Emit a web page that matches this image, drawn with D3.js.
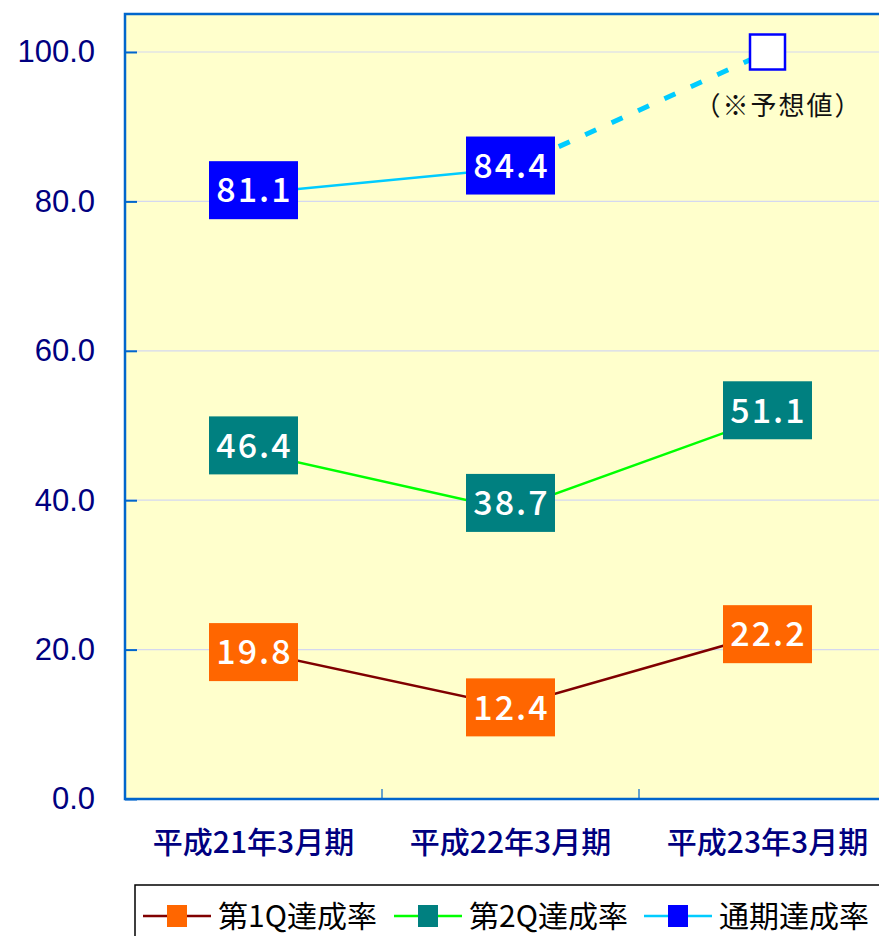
<!DOCTYPE html>
<html>
<head>
<meta charset="utf-8">
<script src="https://cdn.jsdelivr.net/npm/d3@7"></script>
<style>
  body { margin: 0; background: #fff; }
  svg { display: block; }
</style>
</head>
<body>
<svg width="879" height="936"></svg>
<script>
// chart values
var categories = ["平成21年3月期", "平成22年3月期", "平成23年3月期"];
var q1Rate = [19.8, 12.4, 22.2];
var q2Rate = [46.4, 38.7, 51.1];
var fullRate = [81.1, 84.4, null];
var forecastRate = [null, null, 100.0];
var yTicks = [0, 20, 40, 60, 80, 100];
var legendNames = ["第1Q達成率", "第2Q達成率", "通期達成率"];
var noteText = "（※予想値）";

var svg = d3.select("svg");
var width = +svg.attr("width");
var height = +svg.attr("height");
var plotLeft = 125, plotTop = 14, plotRight = 896, plotBottom = 799;

var xScale = d3.scaleBand().domain(categories).range([plotLeft, plotRight]).paddingInner(0).paddingOuter(0);
var yScale = d3.scaleLinear().domain([0, 100]).range([plotBottom, 52]);
var cx = function (i) { return xScale(categories[i]) + xScale.bandwidth() / 2; };
var fmt = d3.format(".1f");

// plot background
svg.append("rect").attr("x", plotLeft).attr("y", plotTop)
  .attr("width", plotRight - plotLeft).attr("height", plotBottom - plotTop)
  .attr("fill", "#ffffcc");

// gridlines
svg.append("g").selectAll("line").data(yTicks.filter(d => d > 0)).enter().append("line")
  .attr("x1", plotLeft).attr("x2", plotRight)
  .attr("y1", d => yScale(d)).attr("y2", d => yScale(d))
  .attr("stroke", "#d4d8f0").attr("stroke-width", 1.2);

// y axis
var yAxis = d3.axisLeft(yScale).tickValues(yTicks).tickSize(-12).tickPadding(30).tickFormat(fmt);
var yAxisG = svg.append("g").attr("transform", `translate(${plotLeft},0)`).call(yAxis);
yAxisG.select(".domain").remove();
yAxisG.selectAll(".tick line").attr("stroke", "#0066cc").attr("stroke-width", 2);
yAxisG.selectAll(".tick text").attr("fill", "#000080")
  .style("font-family", "Liberation Sans, Arial, sans-serif").style("font-size", "31px");

// x axis
var xAxis = d3.axisBottom(xScale).tickSize(0).tickPadding(33);
var xAxisG = svg.append("g").attr("transform", `translate(0,${plotBottom})`).call(xAxis);
xAxisG.select(".domain").remove();
xAxisG.selectAll(".tick text").attr("fill", "#000080")
  .style("font-family", "Noto Sans CJK JP, sans-serif").style("font-size", "30px")
  .style("font-weight", "500");
// inner category separators
svg.append("g").selectAll("line").data(categories.slice(1)).enter().append("line")
  .attr("x1", d => xScale(d)).attr("x2", d => xScale(d))
  .attr("y1", plotBottom - 10).attr("y2", plotBottom)
  .attr("stroke", "#0066cc").attr("stroke-width", 1.2);

// frame
svg.append("path")
  .attr("d", `M${plotRight},${plotTop}H${plotLeft}V${plotBottom}H${plotRight}`)
  .attr("fill", "none").attr("stroke", "#0066cc").attr("stroke-width", 2.5);

// series lines
var line = d3.line().defined(d => d.v != null).x(d => cx(d.i)).y(d => yScale(d.v));
var asPts = arr => arr.map((v, i) => ({ i: i, v: v }));

var series = [
  { name: legendNames[0], values: q1Rate, line: "#800000", box: "#ff6600", labelDy: 1 },
  { name: legendNames[1], values: q2Rate, line: "#00ff00", box: "#008080", labelDy: -7 },
  { name: legendNames[2], values: fullRate, line: "#00ccff", box: "#0000ff", labelDy: -3 }
];

// forecast dashed segment
var lastFull = fullRate.length - 2;
svg.append("path")
  .attr("d", line([{ i: lastFull, v: fullRate[lastFull] }, { i: 2, v: forecastRate[2] }]))
  .attr("fill", "none").attr("stroke", "#00ccff").attr("stroke-width", 5)
  .attr("stroke-dasharray", "12,17").attr("stroke-dashoffset", 5);

series.forEach(function (s) {
  svg.append("path").attr("d", line(asPts(s.values)))
    .attr("fill", "none").attr("stroke", s.line).attr("stroke-width", 2.5);
});

// forecast marker
forecastRate.forEach(function (v, i) {
  if (v == null) return;
  svg.append("rect").attr("x", cx(i) - 17.5).attr("y", yScale(v) - 17.5)
    .attr("width", 35).attr("height", 35)
    .attr("fill", "#ffffff").attr("stroke", "#0000ff").attr("stroke-width", 2.5);
  svg.append("text").attr("x", cx(i) + 11).attr("y", yScale(v) + 63)
    .attr("text-anchor", "middle").attr("fill", "#111")
    .style("font-family", "Noto Sans CJK JP, sans-serif").style("font-size", "26px")
    .style("letter-spacing", "2px")
    .text(noteText);
});

// value labels
series.forEach(function (s) {
  var g = svg.append("g");
  s.values.forEach(function (v, i) {
    if (v == null) return;
    var yc = yScale(v) + s.labelDy;
    g.append("rect").attr("x", cx(i) - 44.5).attr("y", yc - 29)
      .attr("width", 89).attr("height", 58).attr("fill", s.box);
    g.append("text").attr("x", cx(i) + 1).attr("y", yc).attr("dy", "0.36em")
      .attr("text-anchor", "middle").attr("fill", "#ffffff")
      .style("font-family", "Noto Sans CJK JP, sans-serif").style("font-size", "34px")
      .style("font-weight", "500").style("letter-spacing", "2px")
      .text(fmt(v));
  });
});

// legend
var legend = svg.append("g").attr("transform", "translate(135,885)");
legend.append("rect").attr("x", 0).attr("y", 0).attr("width", 800).attr("height", 80)
  .attr("fill", "#ffffff").attr("stroke", "#000").attr("stroke-width", 1.5);
var legendX = [8, 259, 509];
series.forEach(function (s, k) {
  var item = legend.append("g").attr("transform", `translate(${legendX[k]},31)`);
  item.append("line").attr("x1", 0).attr("x2", 68).attr("y1", 0).attr("y2", 0)
    .attr("stroke", s.line).attr("stroke-width", 2.5);
  item.append("rect").attr("x", 24).attr("y", -11).attr("width", 20).attr("height", 22)
    .attr("fill", s.box);
  item.append("text").attr("x", 75).attr("y", 0).attr("dy", "0.36em").attr("fill", "#000")
    .style("font-family", "Noto Sans CJK JP, sans-serif").style("font-size", "30px")
    .text(s.name);
});
</script>
</body>
</html>
